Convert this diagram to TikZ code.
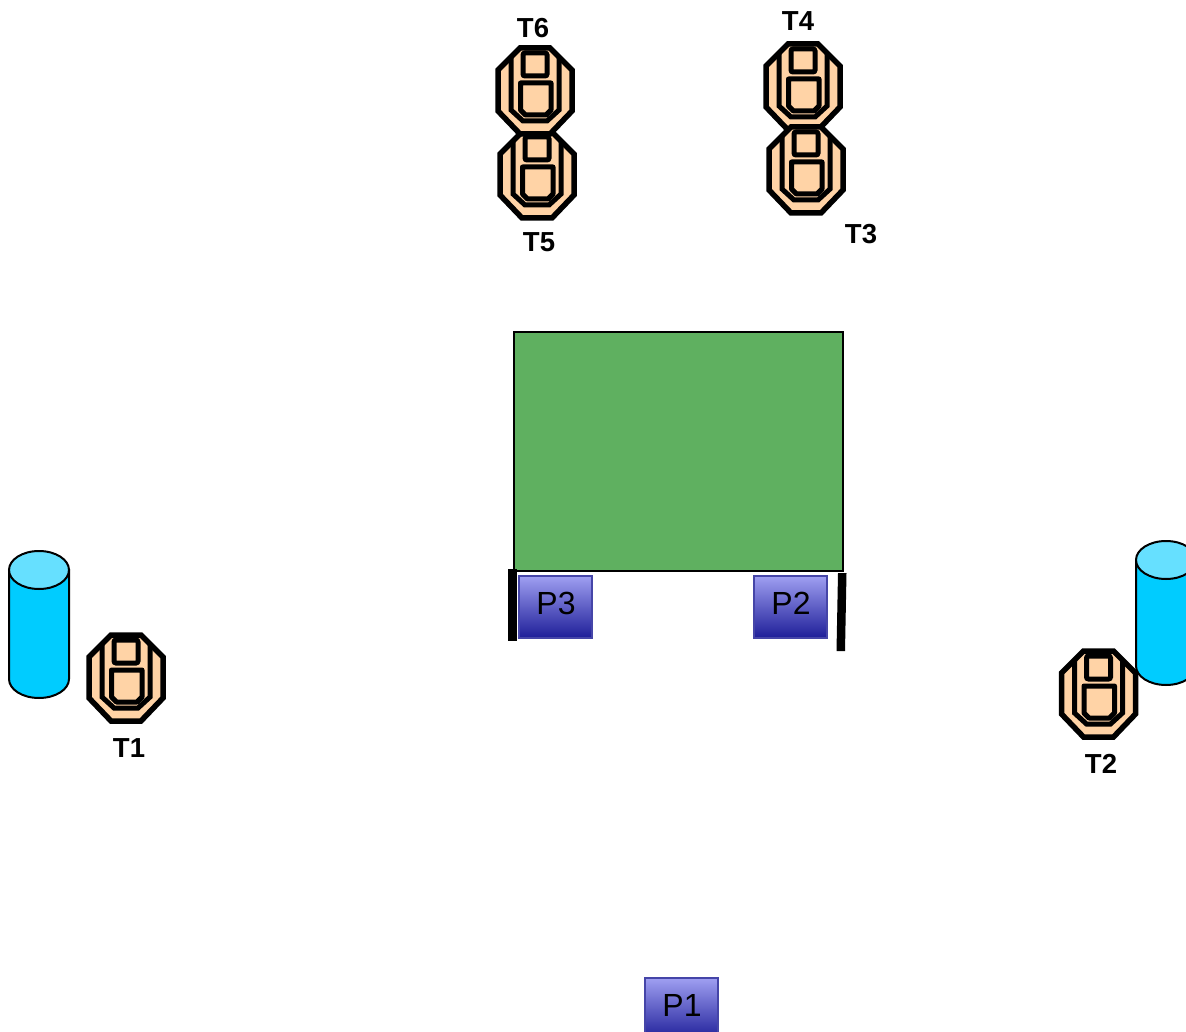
\documentclass[tikz,border=0pt]{standalone}
\usepackage{fontspec}
\setmainfont{Liberation Sans}
\definecolor{skin}{HTML}{FFD3A6}
\definecolor{cyl}{HTML}{00CCFF}
\definecolor{cyltop}{HTML}{66E0FF}
\definecolor{field}{HTML}{5FB060}
\definecolor{ptop}{HTML}{A0A0F2}
\definecolor{pbot}{HTML}{1F1F99}
\definecolor{pedge}{HTML}{4545A8}
\tikzset{
  tlabel/.style={font=\bfseries\fontsize{27.5}{27.5}\selectfont, inner sep=0pt},
  pbox/.style={draw=pedge, line width=2pt, top color=ptop, bottom color=pbot, minimum width=73pt, minimum height=62pt, inner sep=0pt},
  pboxtext/.style={inner sep=0pt, font=\fontsize{32}{32}\selectfont},
  bar/.style={fill=black, draw=none},
  robotline/.style={line width=5.5pt, line join=miter, draw=black},
  pics/robot/.style={code={
    \draw[robotline, fill=skin] (-15,-43) -- (15,-43) -- (37,-21) -- (37,20) -- (15,43) -- (-15,43) -- (-37,20) -- (-37,-21) -- cycle;
    \draw[robotline, line width=5pt] (-24,-33) -- (-24,19) -- (-12,30) -- (12,30) -- (24,19) -- (24,-33);
    \draw[robotline, line width=5pt, fill=skin, rounded corners=2pt] (-12,-38) rectangle (12,-15);
    \draw[robotline, line width=5pt, fill=skin, line join=round] (-14.5,-8) -- (16,-8) -- (16,19) -- (11,24) -- (-9.5,24) -- (-14.5,19) -- cycle;
  }},
  cylinder shape/.style={draw=black, line width=2pt},
}
\begin{document}
\begin{tikzpicture}[x=1pt,y=-1pt]
\clip (0,0) rectangle (1186,1032);
\useasboundingbox (0,0) rectangle (1186,1032);
% field
\node[draw=black, line width=1.2pt, fill=field, minimum width=329pt, minimum height=239pt, inner sep=0pt] (field) at (678.5,451.5) {};
% bars
\fill[bar] (508,569) rectangle (517,641);
\fill[bar] (838,573) -- (846.5,573) -- (845,651) -- (836.5,651) -- cycle;
% P boxes
\node[pbox] (P3) at (555.5,606.5) {};
\node[pboxtext] (P3t) at (556,603) {P3};
\node[pbox] (P2) at (790,606.5) {};
\node[pboxtext] (P2t) at (791,603) {P2};
\node[pbox] (P1) at (681.5,1008.5) {};
\node[pboxtext] (P1t) at (682,1005) {P1};
% cylinders
\draw[cylinder shape, fill=cyl] (9,570) -- (9,679) arc[start angle=180, end angle=360, x radius=30, y radius=-19] -- (69,570) -- cycle;
\draw[cylinder shape, fill=cyltop] (39,570) ellipse[x radius=30, y radius=19];
\draw[cylinder shape, fill=cyl] (1136,560) -- (1136,666) arc[start angle=180, end angle=360, x radius=30, y radius=-19] -- (1196,560) -- cycle;
\draw[cylinder shape, fill=cyltop] (1166,560) ellipse[x radius=30, y radius=19];
% robots
\pic at (126,678) {robot};
\pic at (1098.5,694) {robot};
\pic at (537,175) {robot};
\pic at (535,91) {robot};
\pic at (803,87) {robot};
\pic at (806,170) {robot};
% labels
\node[tlabel] (T6) at (533,28) {T6};
\node[tlabel] (T5) at (539,242) {T5};
\node[tlabel] (T4) at (798,21) {T4};
\node[tlabel] (T3) at (861,234) {T3};
\node[tlabel] (T1) at (129,748) {T1};
\node[tlabel] (T2) at (1101,764) {T2};
\end{tikzpicture}
\end{document}
